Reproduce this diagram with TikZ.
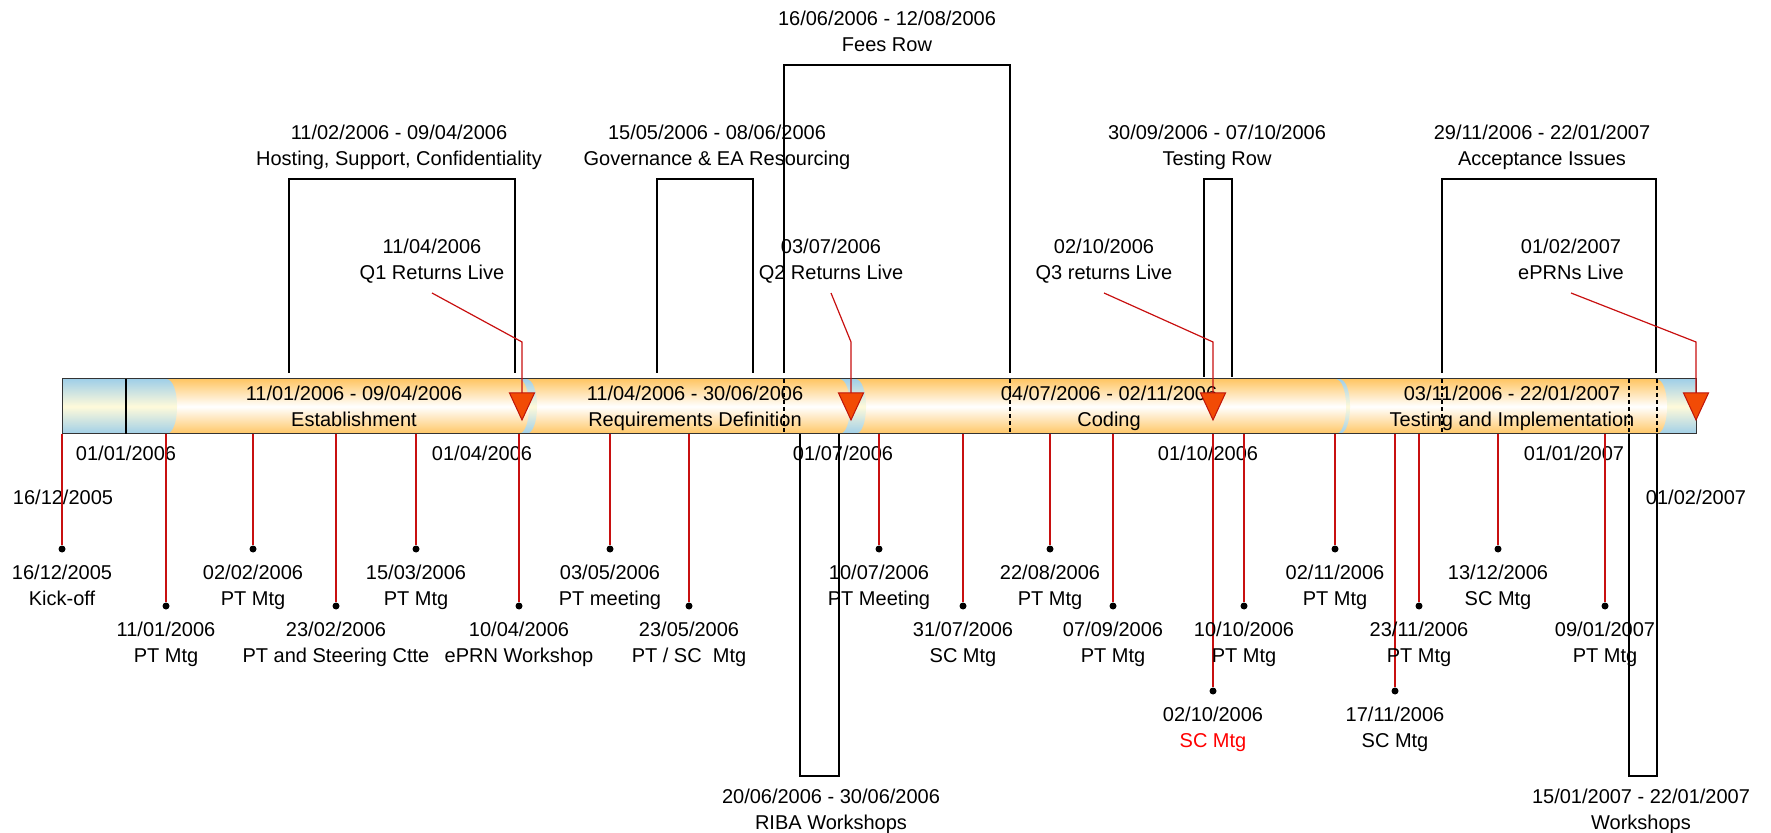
\documentclass[tikz,border=0pt]{standalone}
\usepackage{fontspec}
\setmainfont{Liberation Sans}
\definecolor{barorange}{RGB}{255,198,100}
\definecolor{barblue}{RGB}{160,207,232}
\definecolor{barcream}{RGB}{255,250,218}
\definecolor{mtgred}{RGB}{200,16,16}
\definecolor{trifill}{RGB}{242,75,5}
\definecolor{triline}{RGB}{190,20,10}
\tikzset{
  lbl/.style={align=center, inner sep=0pt, anchor=north},
  bracket/.style={line width=1pt, line join=miter},
  mtgline/.style={mtgred, line width=0.6pt},
  dot/.style={circle, fill=black, inner sep=0pt, minimum size=3.5pt},
  orangeseg/.style={top color=barorange, bottom color=barorange, middle color=white},
  blueseg/.style={top color=barblue, bottom color=barblue, middle color=barcream},
  tri/.style={fill=trifill, draw=triline, line width=0.5pt, line join=miter},
  phasecut/.style={dashed, dash pattern=on 2pt off 1.5pt, line width=0.6pt}
}
\begin{document}
\begin{tikzpicture}[x=0.5pt, y=-0.5pt, font=\fontsize{10}{13}\selectfont]
  \useasboundingbox (0,0) rectangle (1771,833);
  \path (62,379) coordinate (bartop) (62,434) coordinate (barbot);
  % timeline bar, right to left
  \path[blueseg] (1656,379) rectangle (1696,434);
  \path[orangeseg] (1339,379) -- (1656,379) .. controls (1670.7,379) and (1670.7,434) .. (1656,434) -- (1339,434) -- cycle;
  \path[blueseg] (1335,379) -- (1339,379) .. controls (1353.7,379) and (1353.7,434) .. (1339,434) -- (1335,434) -- cycle;
  \path[orangeseg] (855,379) -- (1335,379) .. controls (1349.7,379) and (1349.7,434) .. (1335,434) -- (855,434) -- cycle;
  \path[blueseg] (839,379) -- (855,379) .. controls (869.7,379) and (869.7,434) .. (855,434) -- (839,434) -- cycle;
  \path[orangeseg] (526,379) -- (839,379) .. controls (853.7,379) and (853.7,434) .. (839,434) -- (526,434) -- cycle;
  \path[blueseg] (518,379) -- (526,379) .. controls (540.7,379) and (540.7,434) .. (526,434) -- (518,434) -- cycle;
  \path[orangeseg] (166,379) -- (518,379) .. controls (532.7,379) and (532.7,434) .. (518,434) -- (166,434) -- cycle;
  \path[blueseg] (62,379) -- (166,379) .. controls (180.7,379) and (180.7,434) .. (166,434) -- (62,434) -- cycle;
  \draw[line width=0.5pt, black!80] (bartop) rectangle (1696,434);
  \draw[line width=0.6pt] (126,379) -- (126,434);
  \draw[phasecut] (784,379) -- (784,434);
  \draw[phasecut] (1010,379) -- (1010,434);
  \draw[phasecut] (1442,379) -- (1442,434);
  \draw[phasecut] (1629,379) -- (1629,434);
  \draw[phasecut] (1657,379) -- (1657,434);
  % phases
  \node[lbl] (est) at (354,385.5) {11/01/2006 - 09/04/2006\\Establishment};
  \node[lbl] (req) at (695,385.5) {11/04/2006 - 30/06/2006\\Requirements Definition};
  \node[lbl] (cod) at (1109,385.5) {04/07/2006 - 02/11/2006\\Coding};
  \node[lbl] (tst) at (1512,385.5) {03/11/2006 - 22/01/2007\\Testing and Implementation};
  % scale
  \node[lbl] (s1) at (126,445.5) {01/01/2006};
  \node[lbl] (s2) at (482,445.5) {01/04/2006};
  \node[lbl] (s3) at (843,445.5) {01/07/2006};
  \node[lbl] (s4) at (1208,445.5) {01/10/2006};
  \node[lbl] (s5) at (1574,445.5) {01/01/2007};
  \node[lbl] (sbeg) at (63,489.5) {16/12/2005};
  \node[lbl] (send) at (1696,489.5) {01/02/2007};
  % intervals
  \draw[bracket] (289,373) -- (289,179) -- (515,179) -- (515,373);
  \draw[bracket] (657,373) -- (657,179) -- (753,179) -- (753,373);
  \draw[bracket] (784,373) -- (784,65) -- (1010,65) -- (1010,373);
  \draw[bracket] (1204,377) -- (1204,179) -- (1232,179) -- (1232,377);
  \draw[bracket] (1442,373) -- (1442,179) -- (1656,179) -- (1656,373);
  \draw[bracket] (800,434) -- (800,776) -- (839,776) -- (839,434);
  \draw[bracket] (1629,434) -- (1629,776) -- (1657,776) -- (1657,434);
  \node[lbl] (host) at (399,124.5) {11/02/2006 - 09/04/2006\\Hosting, Support, Confidentiality};
  \node[lbl] (gov) at (717,124.5) {15/05/2006 - 08/06/2006\\Governance \& EA Resourcing};
  \node[lbl] (fees) at (887,10.5) {16/06/2006 - 12/08/2006\\Fees Row};
  \node[lbl] (trow) at (1217,124.5) {30/09/2006 - 07/10/2006\\Testing Row};
  \node[lbl] (acc) at (1542,124.5) {29/11/2006 - 22/01/2007\\Acceptance Issues};
  \node[lbl] (riba) at (831,788.5) {20/06/2006 - 30/06/2006\\RIBA Workshops};
  \node[lbl] (wks) at (1641,788.5) {15/01/2007 - 22/01/2007\\Workshops};
  % meetings
  \node[dot] (d01) at (62,549) {};
  \node[dot] (d02) at (166,606) {};
  \node[dot] (d03) at (253,549) {};
  \node[dot] (d04) at (336,606) {};
  \node[dot] (d05) at (416,549) {};
  \node[dot] (d06) at (519,606) {};
  \node[dot] (d07) at (610,549) {};
  \node[dot] (d08) at (689,606) {};
  \node[dot] (d09) at (879,549) {};
  \node[dot] (d10) at (963,606) {};
  \node[dot] (d11) at (1050,549) {};
  \node[dot] (d12) at (1113,606) {};
  \node[dot] (d13) at (1213,691) {};
  \node[dot] (d14) at (1244,606) {};
  \node[dot] (d15) at (1335,549) {};
  \node[dot] (d16) at (1395,691) {};
  \node[dot] (d17) at (1419,606) {};
  \node[dot] (d18) at (1498,549) {};
  \node[dot] (d19) at (1605,606) {};
  \begin{scope}[mtgline]
    \draw (d01 |- barbot) -- (d01);
    \draw (d02 |- barbot) -- (d02);
    \draw (d03 |- barbot) -- (d03);
    \draw (d04 |- barbot) -- (d04);
    \draw (d05 |- barbot) -- (d05);
    \draw (d06 |- barbot) -- (d06);
    \draw (d07 |- barbot) -- (d07);
    \draw (d08 |- barbot) -- (d08);
    \draw (d09 |- barbot) -- (d09);
    \draw (d10 |- barbot) -- (d10);
    \draw (d11 |- barbot) -- (d11);
    \draw (d12 |- barbot) -- (d12);
    \draw (d13 |- barbot) -- (d13);
    \draw (d14 |- barbot) -- (d14);
    \draw (d15 |- barbot) -- (d15);
    \draw (d16 |- barbot) -- (d16);
    \draw (d17 |- barbot) -- (d17);
    \draw (d18 |- barbot) -- (d18);
    \draw (d19 |- barbot) -- (d19);
  \end{scope}
  \node[lbl] (m01) at (62,564.5) {16/12/2005\\Kick-off};
  \node[lbl] (m02) at (166,621.5) {11/01/2006\\PT Mtg};
  \node[lbl] (m03) at (253,564.5) {02/02/2006\\PT Mtg};
  \node[lbl] (m04) at (336,621.5) {23/02/2006\\PT and Steering Ctte};
  \node[lbl] (m05) at (416,564.5) {15/03/2006\\PT Mtg};
  \node[lbl] (m06) at (519,621.5) {10/04/2006\\ePRN Workshop};
  \node[lbl] (m07) at (610,564.5) {03/05/2006\\PT meeting};
  \node[lbl] (m08) at (689,621.5) {23/05/2006\\PT / SC\ \ Mtg};
  \node[lbl] (m09) at (879,564.5) {10/07/2006\\PT Meeting};
  \node[lbl] (m10) at (963,621.5) {31/07/2006\\SC Mtg};
  \node[lbl] (m11) at (1050,564.5) {22/08/2006\\PT Mtg};
  \node[lbl] (m12) at (1113,621.5) {07/09/2006\\PT Mtg};
  \node[lbl] (m13) at (1213,706.5) {02/10/2006\\\textcolor{red}{SC Mtg}};
  \node[lbl] (m14) at (1244,621.5) {10/10/2006\\PT Mtg};
  \node[lbl] (m15) at (1335,564.5) {02/11/2006\\PT Mtg};
  \node[lbl] (m16) at (1395,706.5) {17/11/2006\\SC Mtg};
  \node[lbl] (m17) at (1419,621.5) {23/11/2006\\PT Mtg};
  \node[lbl] (m18) at (1498,564.5) {13/12/2006\\SC Mtg};
  \node[lbl] (m19) at (1605,621.5) {09/01/2007\\PT Mtg};
  % milestones
  \node[lbl] (q1lbl) at (432,238.5) {11/04/2006\\Q1 Returns Live};
  \node[lbl] (q2lbl) at (831,238.5) {03/07/2006\\Q2 Returns Live};
  \node[lbl] (q3lbl) at (1104,238.5) {02/10/2006\\Q3 returns Live};
  \node[lbl] (eplbl) at (1571,238.5) {01/02/2007\\ePRNs Live};
  \path (432,293) coordinate (q1a) (522,342) coordinate (q1b) (522,393) coordinate (q1);
  \path (831,293) coordinate (q2a) (851,342) coordinate (q2b) (851,393) coordinate (q2);
  \path (1104,293) coordinate (q3a) (1213,342) coordinate (q3b) (1213,393) coordinate (q3);
  \path (1571,293) coordinate (epa) (1696,342) coordinate (epb) (1696,393) coordinate (ep);
  \draw[mtgline] (q1a) -- (q1b) -- (q1);
  \draw[mtgline] (q2a) -- (q2b) -- (q2);
  \draw[mtgline] (q3a) -- (q3b) -- (q3);
  \draw[mtgline] (epa) -- (epb) -- (ep);
  \draw[tri] (q1) ++(-12.5,0) -- ++(25,0) -- ++(-12.5,27) -- cycle;
  \draw[tri] (q2) ++(-12.5,0) -- ++(25,0) -- ++(-12.5,27) -- cycle;
  \draw[tri] (q3) ++(-12.5,0) -- ++(25,0) -- ++(-12.5,27) -- cycle;
  \draw[tri] (ep) ++(-12.5,0) -- ++(25,0) -- ++(-12.5,27) -- cycle;
\end{tikzpicture}
\end{document}
